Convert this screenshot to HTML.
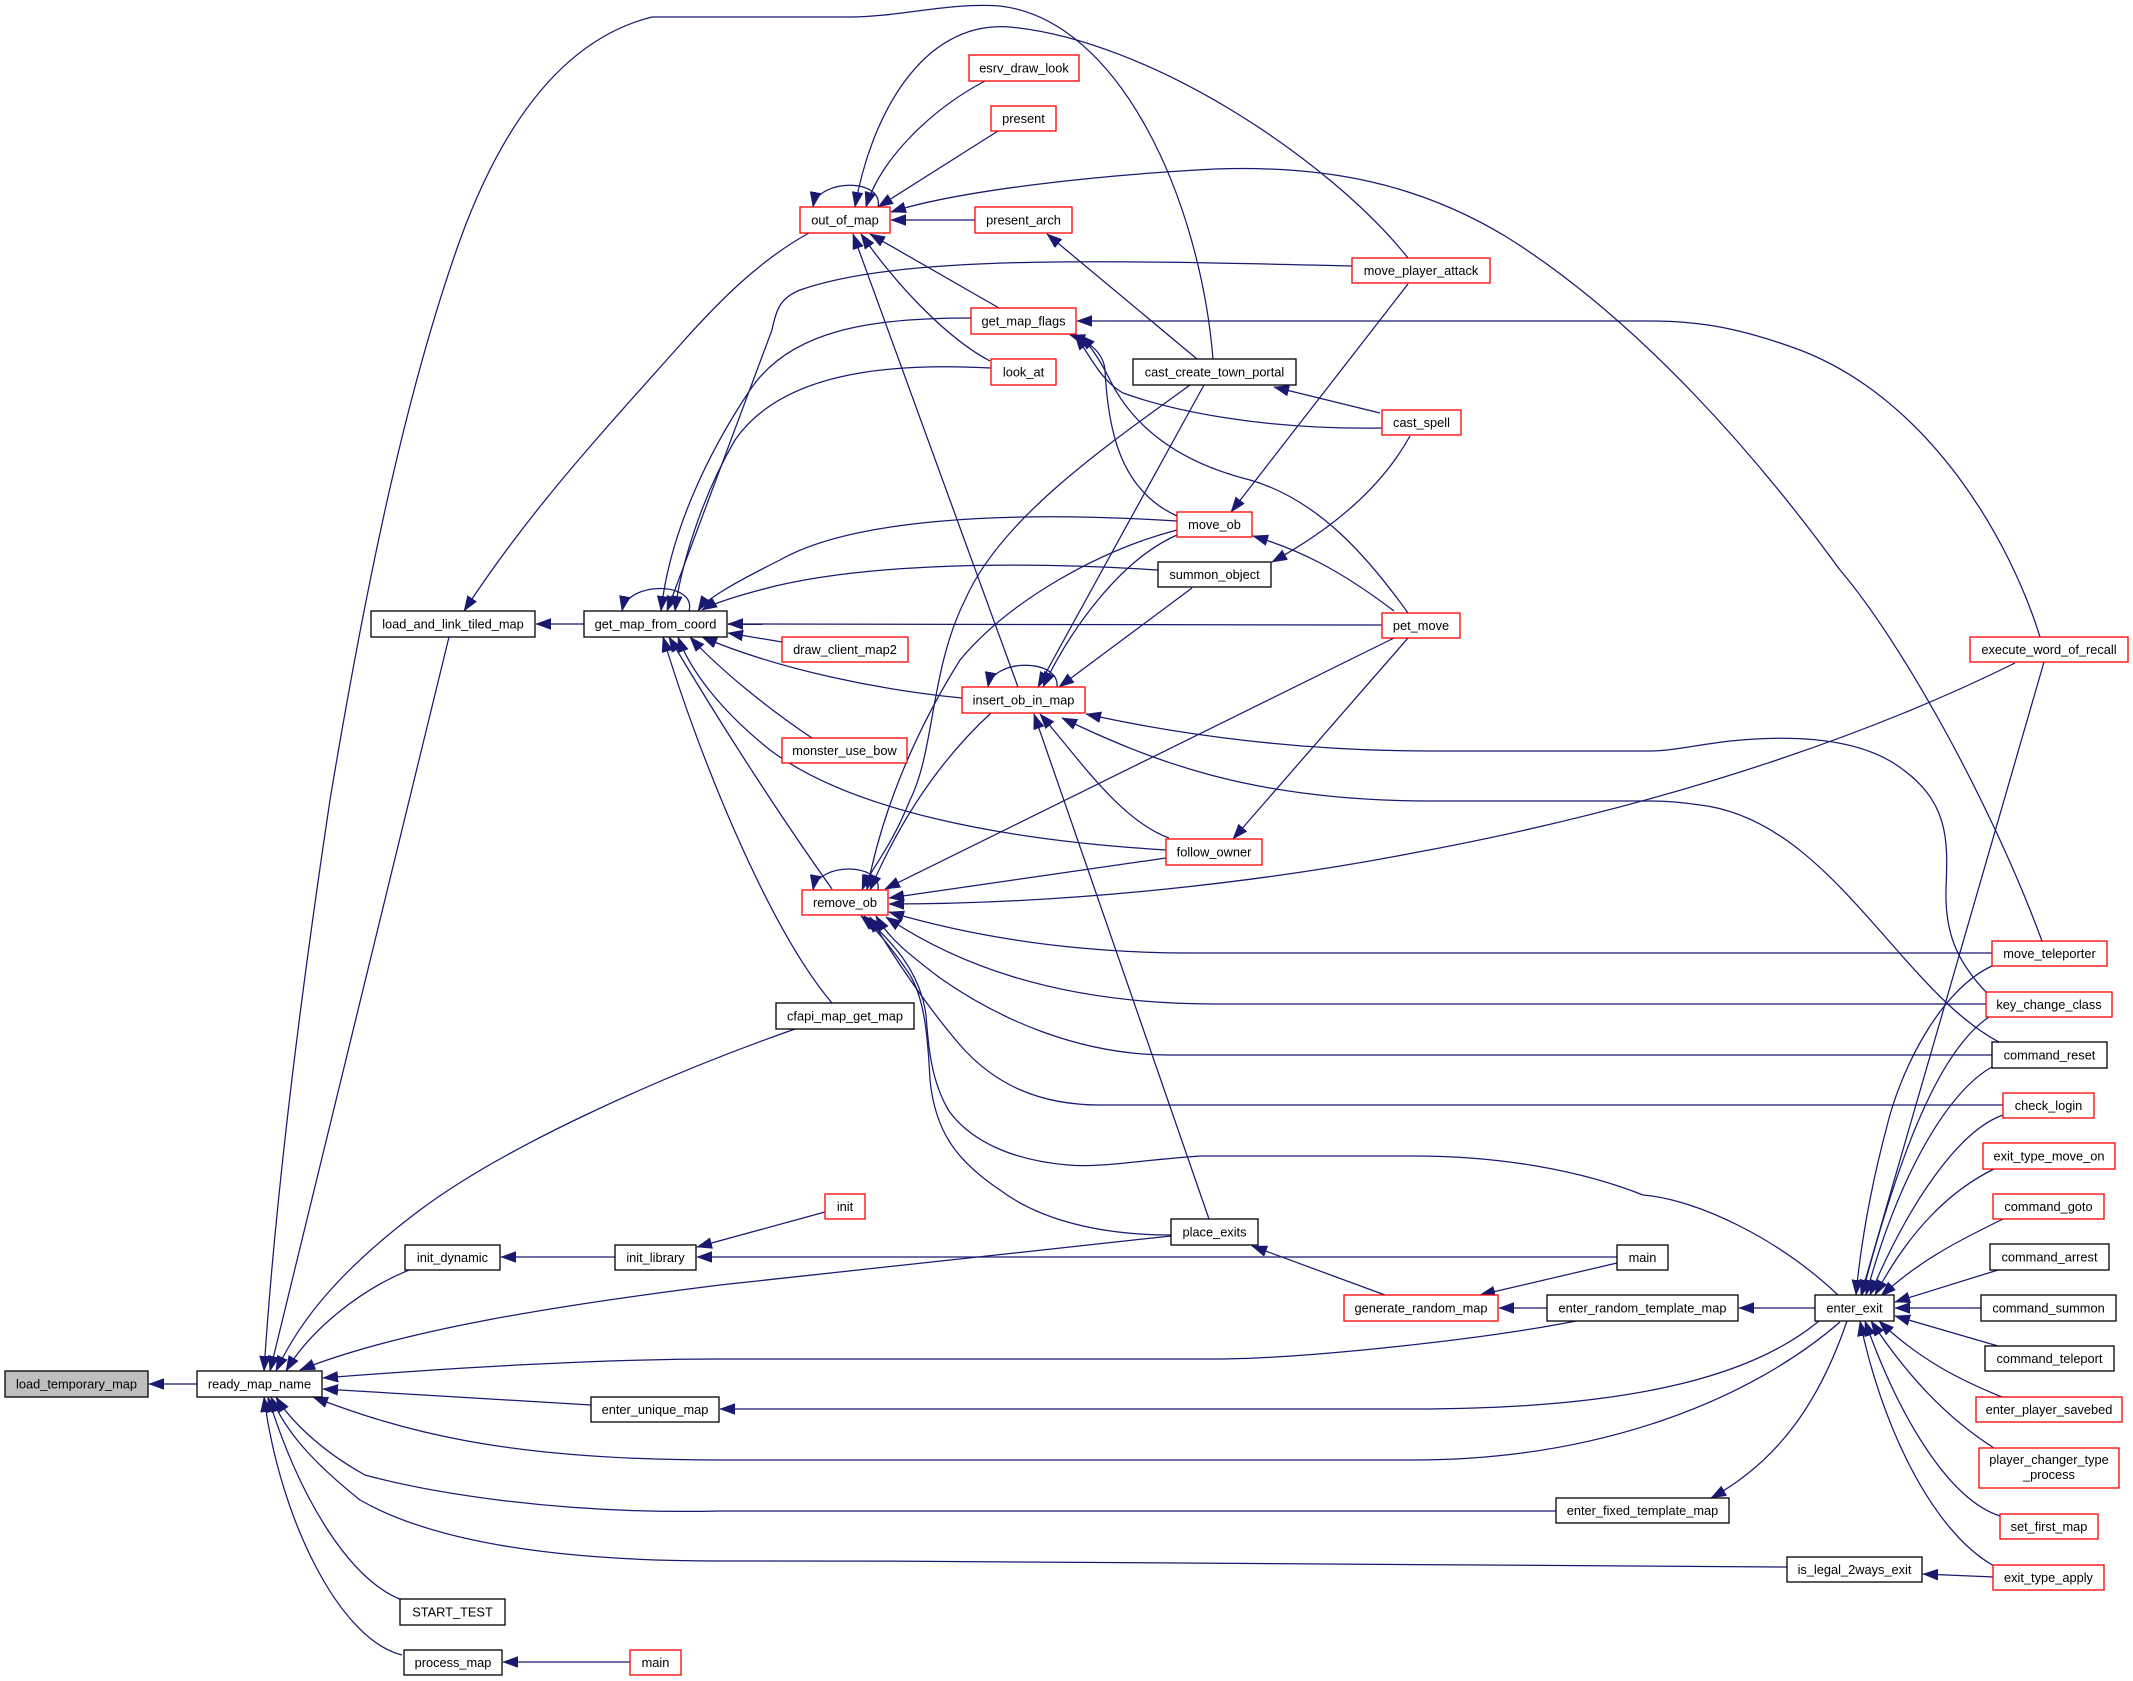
<!DOCTYPE html>
<html><head><meta charset="utf-8">
<style>
html,body{margin:0;padding:0;background:#fff;}
svg{display:block;}
text{font-family:"Liberation Sans",Arial,sans-serif;font-size:12.8px;fill:#000;text-anchor:middle;}
.e{fill:none;stroke:#191970;stroke-width:1.25;marker-end:url(#ah);}
.nb{fill:#fff;stroke:#000;stroke-width:1.3;}
.nr{fill:#fff;stroke:#ff0000;stroke-width:1.3;}
.ng{fill:#bfbfbf;stroke:#000;stroke-width:1.3;}
</style></head>
<body>
<svg width="2133" height="1681" viewBox="0 0 2133 1681" xmlns="http://www.w3.org/2000/svg">
<defs>
<marker id="ah" markerUnits="userSpaceOnUse" markerWidth="16" markerHeight="12" refX="15" refY="5.5" orient="auto">
<path d="M0,0 L15,5.5 L0,11 z" fill="#191970" stroke="#191970" stroke-width="0.5"/>
</marker>
</defs>
<rect width="2133" height="1681" fill="#fff"/>

<!-- edges -->
<path class="e" d="M197,1384 L149,1384"/>
<path class="e" d="M449,637 L270,1371"/>
<path class="e" d="M1213,359 C1200,200 1120,20 1000,6 C950,2 900,17 850,17 L652,17 C560,40 500,130 460,240 C410,380 370,560 330,800 C300,1000 275,1200 264,1371"/>
<path class="e" d="M795,1029 C650,1080 500,1150 420,1210 C340,1270 300,1320 276,1371"/>
<path class="e" d="M409,1270 C360,1290 310,1330 286,1371"/>
<path class="e" d="M1171,1236 L720,1285 C560,1305 400,1330 300,1370"/>
<path class="e" d="M1576,1321 C1480,1340 1300,1359 1215,1359 L720,1359 C600,1359 450,1368 323,1378"/>
<path class="e" d="M591,1405 L323,1389"/>
<path class="e" d="M1840,1322 C1750,1400 1600,1460 1413,1460 L720,1460 C500,1460 400,1430 313,1397"/>
<path class="e" d="M1556,1511 L720,1511 C550,1515 420,1490 365,1475 C320,1450 290,1420 276,1397"/>
<path class="e" d="M1787,1567 C1500,1563 1100,1561 720,1561 C550,1561 430,1540 360,1500 C310,1460 285,1430 271,1397"/>
<path class="e" d="M402,1600 C350,1580 300,1500 268,1397"/>
<path class="e" d="M402,1655 C340,1640 280,1520 264,1397"/>
<path class="e" d="M630,1662 L503,1662"/>
<path class="e" d="M615,1257 L501,1257"/>
<path class="e" d="M1617,1257 L697,1257"/>
<path class="e" d="M825,1212 L697,1247"/>
<path class="e" d="M584,624 L536,624"/>
<path class="e" d="M809,233 C760,260 720,300 680,345 C600,435 530,510 464,611"/>
<path class="e" d="M689,611 C697,582 628,580 622,611"/>
<path class="e" d="M971,318 C870,318 790,330 750,390 C710,450 670,530 661,611"/>
<path class="e" d="M991,368 C880,362 780,375 735,440 C700,500 680,570 675,611"/>
<path class="e" d="M1352,266 C1100,260 900,255 800,290 C780,298 776,310 772,330 L667,611"/>
<path class="e" d="M1177,521 C1000,510 850,520 780,560 C730,585 705,600 698,611"/>
<path class="e" d="M1158,570 C1000,560 850,565 760,590 C730,598 712,604 702,610"/>
<path class="e" d="M1382,625 L728,624"/>
<path class="e" d="M782,642 L728,633"/>
<path class="e" d="M962,698 C880,690 780,670 702,637"/>
<path class="e" d="M812,738 C770,710 720,670 690,637"/>
<path class="e" d="M1166,850 C1000,840 850,810 770,750 C720,710 690,670 678,637"/>
<path class="e" d="M832,889 C790,830 730,740 669,637"/>
<path class="e" d="M832,1003 C770,930 700,760 663,637"/>
<path class="e" d="M878,207 C884,178 818,178 813,207"/>
<path class="e" d="M985,81 C930,110 880,160 866,207"/>
<path class="e" d="M998,131 L878,207"/>
<path class="e" d="M975,220 L891,220"/>
<path class="e" d="M1408,258 C1330,160 1150,40 1010,27 C920,20 870,120 855,207"/>
<path class="e" d="M2042,941 C1990,800 1900,640 1840,570 C1760,460 1640,320 1505,236 C1420,185 1330,165 1215,169 C1100,175 960,190 891,212"/>
<path class="e" d="M999,308 L870,234"/>
<path class="e" d="M990,361 C950,340 900,290 861,234"/>
<path class="e" d="M1018,687 L853,234"/>
<path class="e" d="M1197,359 L1047,234"/>
<path class="e" d="M2040,637 C2010,540 1930,400 1800,350 C1740,328 1700,321 1650,321 L1077,321"/>
<path class="e" d="M1177,516 C1120,490 1108,430 1105,370 C1103,350 1085,340 1070,335"/>
<path class="e" d="M1382,428 C1260,430 1170,410 1123,393 C1100,380 1090,355 1075,335"/>
<path class="e" d="M1408,613 C1370,560 1320,500 1250,480 C1170,460 1130,420 1110,380 C1100,360 1090,345 1080,335"/>
<path class="e" d="M1380,413 L1274,387"/>
<path class="e" d="M1190,385 C1100,450 1000,520 965,600 C930,670 935,750 910,800 C890,850 870,870 862,890"/>
<path class="e" d="M1204,385 L1038,687"/>
<path class="e" d="M1177,535 C1120,560 1070,630 1043,687"/>
<path class="e" d="M1177,530 C1100,550 1010,600 960,660 C910,740 880,820 867,890"/>
<path class="e" d="M1192,588 L1059,687"/>
<path class="e" d="M1987,993 C1955,960 1945,930 1946,890 C1948,840 1950,800 1895,764 C1850,735 1780,736 1730,741 C1690,746 1670,751 1650,751 L1430,751 C1300,751 1180,735 1086,714"/>
<path class="e" d="M1999,1042 C1900,990 1830,820 1700,805 C1680,802 1660,801 1650,801 L1430,801 C1250,801 1150,760 1062,718"/>
<path class="e" d="M1169,838 C1120,820 1080,760 1040,714"/>
<path class="e" d="M1209,1219 L1034,714"/>
<path class="e" d="M1057,687 C1060,658 993,658 988,687"/>
<path class="e" d="M991,713 C940,760 900,820 870,890"/>
<path class="e" d="M878,890 C882,862 818,862 813,890"/>
<path class="e" d="M1394,638 L885,889"/>
<path class="e" d="M1166,858 L889,898"/>
<path class="e" d="M2015,663 C1900,720 1700,800 1413,853 C1300,875 1100,904 889,904"/>
<path class="e" d="M1992,953 L1192,953 C1050,953 950,930 889,912"/>
<path class="e" d="M1986,1004 L1215,1004 C1050,1004 950,960 886,917"/>
<path class="e" d="M1992,1055 L1169,1055 C1080,1055 1000,1020 940,978 C910,955 890,940 876,916"/>
<path class="e" d="M2003,1105 L1100,1105 C1040,1105 995,1085 960,1045 C930,1010 895,960 870,917"/>
<path class="e" d="M1838,1295 C1780,1240 1700,1200 1643,1195 C1580,1170 1500,1156 1413,1156 L1201,1156 C1140,1160 1100,1168 1068,1165 C1010,1160 970,1140 949,1111 C930,1080 928,1040 926,1015 C920,970 890,940 864,916"/>
<path class="e" d="M1171,1235 C1100,1235 1040,1220 1000,1190 C955,1160 935,1130 930,1080 C928,1040 925,1000 910,975 C890,945 872,925 861,916"/>
<path class="e" d="M1394,611 C1340,570 1300,550 1253,536"/>
<path class="e" d="M1408,284 L1231,512"/>
<path class="e" d="M1410,436 C1380,490 1330,530 1272,562"/>
<path class="e" d="M1408,638 L1233,839"/>
<path class="e" d="M2044,662 L1861,1295"/>
<path class="e" d="M1992,966 C1940,990 1900,1070 1886,1130 C1870,1190 1860,1250 1856,1295"/>
<path class="e" d="M1989,1017 C1940,1050 1900,1150 1862,1295"/>
<path class="e" d="M1992,1067 C1950,1090 1900,1170 1866,1295"/>
<path class="e" d="M2003,1115 C1960,1130 1910,1200 1870,1295"/>
<path class="e" d="M1996,1168 C1950,1190 1910,1230 1875,1295"/>
<path class="e" d="M2003,1219 C1960,1240 1920,1260 1881,1296"/>
<path class="e" d="M1998,1270 L1895,1302"/>
<path class="e" d="M1981,1308 L1895,1308"/>
<path class="e" d="M1998,1346 L1895,1316"/>
<path class="e" d="M2002,1397 C1960,1380 1920,1360 1879,1321"/>
<path class="e" d="M1994,1448 C1950,1420 1910,1380 1871,1321"/>
<path class="e" d="M2000,1516 C1950,1500 1900,1420 1865,1321"/>
<path class="e" d="M1994,1566 C1930,1530 1880,1420 1860,1321"/>
<path class="e" d="M1994,1577 L1923,1574"/>
<path class="e" d="M1815,1308 L1739,1308"/>
<path class="e" d="M1547,1308 L1499,1308"/>
<path class="e" d="M1617,1263 L1480,1295"/>
<path class="e" d="M1385,1295 L1252,1246"/>
<path class="e" d="M1847,1321 C1820,1400 1780,1460 1711,1498"/>
<path class="e" d="M1819,1321 C1760,1370 1650,1409 1413,1409 L720,1409"/>

<!-- nodes -->
<g>
<rect class="ng" x="5" y="1371" width="143" height="26"/><text x="76.5" y="1388.5">load_temporary_map</text>
<rect class="nb" x="197" y="1371" width="125" height="26"/><text x="259.5" y="1388.5">ready_map_name</text>
<rect class="nb" x="371" y="611" width="164" height="26"/><text x="453" y="628.5">load_and_link_tiled_map</text>
<rect class="nb" x="584" y="611" width="143" height="26"/><text x="655.5" y="628.5">get_map_from_coord</text>
<rect class="nb" x="405" y="1245" width="95" height="25"/><text x="452.5" y="1262">init_dynamic</text>
<rect class="nb" x="400" y="1599" width="105" height="26"/><text x="452.5" y="1616.5">START_TEST</text>
<rect class="nb" x="404" y="1650" width="98" height="25"/><text x="453" y="1667">process_map</text>
<rect class="nr" x="630" y="1650" width="51" height="25"/><text x="655.5" y="1667">main</text>
<rect class="nb" x="615" y="1245" width="81" height="25"/><text x="655.5" y="1262">init_library</text>
<rect class="nb" x="591" y="1397" width="128" height="25"/><text x="655" y="1414">enter_unique_map</text>
<rect class="nb" x="776" y="1003" width="138" height="26"/><text x="845" y="1020.5">cfapi_map_get_map</text>
<rect class="nr" x="800" y="207" width="90" height="26"/><text x="845" y="224.5">out_of_map</text>
<rect class="nr" x="969" y="55" width="110" height="26"/><text x="1024" y="72.5">esrv_draw_look</text>
<rect class="nr" x="991" y="106" width="65" height="25"/><text x="1023.5" y="123">present</text>
<rect class="nr" x="975" y="207" width="97" height="26"/><text x="1023.5" y="224.5">present_arch</text>
<rect class="nr" x="971" y="308" width="105" height="26"/><text x="1023.5" y="325.5">get_map_flags</text>
<rect class="nr" x="991" y="359" width="65" height="26"/><text x="1023.5" y="376.5">look_at</text>
<rect class="nr" x="782" y="637" width="126" height="25"/><text x="845" y="654">draw_client_map2</text>
<rect class="nr" x="782" y="738" width="125" height="25"/><text x="844.5" y="755">monster_use_bow</text>
<rect class="nr" x="802" y="890" width="86" height="25"/><text x="845" y="907">remove_ob</text>
<rect class="nr" x="962" y="687" width="123" height="26"/><text x="1023.5" y="704.5">insert_ob_in_map</text>
<rect class="nr" x="825" y="1194" width="40" height="25"/><text x="845" y="1211">init</text>
<rect class="nr" x="1344" y="1295" width="154" height="26"/><text x="1421" y="1312.5">generate_random_map</text>
<rect class="nb" x="1133" y="359" width="163" height="26"/><text x="1214.5" y="376.5">cast_create_town_portal</text>
<rect class="nr" x="1177" y="512" width="75" height="25"/><text x="1214.5" y="529">move_ob</text>
<rect class="nb" x="1158" y="562" width="113" height="25"/><text x="1214.5" y="579">summon_object</text>
<rect class="nr" x="1166" y="839" width="96" height="26"/><text x="1214" y="856.5">follow_owner</text>
<rect class="nb" x="1171" y="1219" width="87" height="26"/><text x="1214.5" y="1236.5">place_exits</text>
<rect class="nb" x="1617" y="1245" width="51" height="25"/><text x="1642.5" y="1262">main</text>
<rect class="nb" x="1547" y="1295" width="191" height="26"/><text x="1642.5" y="1312.5">enter_random_template_map</text>
<rect class="nb" x="1556" y="1498" width="173" height="25"/><text x="1642.5" y="1515">enter_fixed_template_map</text>
<rect class="nb" x="1787" y="1557" width="135" height="25"/><text x="1854.5" y="1574">is_legal_2ways_exit</text>
<rect class="nr" x="1352" y="258" width="138" height="25"/><text x="1421" y="275">move_player_attack</text>
<rect class="nr" x="1382" y="410" width="79" height="25"/><text x="1421.5" y="427">cast_spell</text>
<rect class="nr" x="1382" y="613" width="78" height="25"/><text x="1421" y="630">pet_move</text>
<rect class="nb" x="1815" y="1295" width="79" height="26"/><text x="1854.5" y="1312.5">enter_exit</text>
<rect class="nr" x="1970" y="637" width="158" height="25"/><text x="2049" y="654">execute_word_of_recall</text>
<rect class="nr" x="1992" y="941" width="115" height="25"/><text x="2049.5" y="958">move_teleporter</text>
<rect class="nr" x="1986" y="992" width="126" height="25"/><text x="2049" y="1009">key_change_class</text>
<rect class="nb" x="1992" y="1042" width="115" height="26"/><text x="2049.5" y="1059.5">command_reset</text>
<rect class="nr" x="2003" y="1093" width="91" height="25"/><text x="2048.5" y="1110">check_login</text>
<rect class="nr" x="1983" y="1143" width="132" height="26"/><text x="2049" y="1160.5">exit_type_move_on</text>
<rect class="nr" x="1993" y="1194" width="111" height="25"/><text x="2048.5" y="1211">command_goto</text>
<rect class="nb" x="1990" y="1244" width="119" height="26"/><text x="2049.5" y="1261.5">command_arrest</text>
<rect class="nb" x="1981" y="1295" width="135" height="26"/><text x="2048.5" y="1312.5">command_summon</text>
<rect class="nb" x="1985" y="1346" width="129" height="25"/><text x="2049.5" y="1363">command_teleport</text>
<rect class="nr" x="1976" y="1397" width="146" height="25"/><text x="2049" y="1414">enter_player_savebed</text>
<rect class="nr" x="1979" y="1448" width="140" height="40"/><text x="2049" y="1464">player_changer_type</text><text x="2049" y="1479">_process</text>
<rect class="nr" x="2000" y="1514" width="98" height="25"/><text x="2049" y="1531">set_first_map</text>
<rect class="nr" x="1993" y="1565" width="111" height="25"/><text x="2048.5" y="1582">exit_type_apply</text>
</g>
</svg>
</body></html>
